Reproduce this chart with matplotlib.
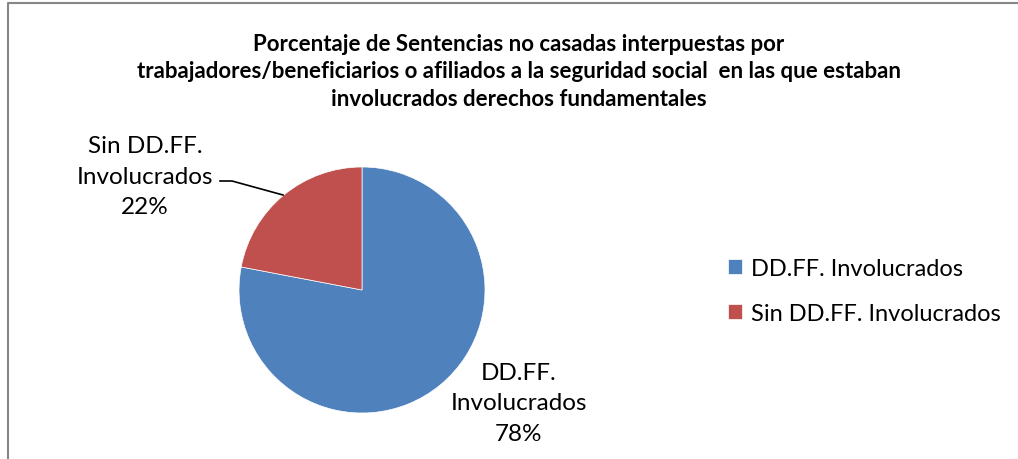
import matplotlib
matplotlib.use('Agg')
from matplotlib import pyplot as plt
from matplotlib.lines import Line2D

#=======================================
# Data
#=======================================
categories = ['DD.FF. Involucrados', 'Sin DD.FF. Involucrados']
values = [78, 22]
colors = ['#4F81BD', '#C0504D']
title = ('Porcentaje de Sentencias no casadas interpuestas por\n'
         'trabajadores/beneficiarios o afiliados a la seguridad social  en las que estaban\n'
         'involucrados derechos fundamentales')

plt.rcParams['font.family'] = ['Lato', 'DejaVu Sans']

W, H = 1018, 460
fig = plt.figure(figsize=(W / 100, H / 100), dpi=100)

def fx(px):
    return px / W

def fy(py):
    return 1 - py / H

#=======================================
# Pie
#=======================================
cx, cy, r = 362, 291, 123
ax = fig.add_axes([fx(cx - r), fy(cy + r), 2 * r / W, 2 * r / H])
wedges, _ = ax.pie(values, colors=colors, startangle=90, counterclock=False,
                   wedgeprops=dict(linewidth=0.5, edgecolor='white'))
ax.set_xlim(-1, 1)
ax.set_ylim(-1, 1)
ax.set_aspect('auto')

# title
fig.text(fx(519), fy(72), title, ha='center', va='center', fontsize=16,
         fontweight='bold', linespacing=1.4, color='black')

# data labels
def label_text(name, val):
    first, rest = name.rsplit(' ', 1)
    return '%s\n%s\n%d%%' % (first, rest, val)

fig.text(fx(519), fy(404), label_text(categories[0], values[0]), ha='center',
         va='center', fontsize=17.5, linespacing=1.55)
fig.text(fx(145), fy(177), label_text(categories[1], values[1]), ha='center',
         va='center', fontsize=17.5, linespacing=1.55)

# leader line
fig.add_artist(Line2D([fx(220), fx(232), fx(283)], [fy(182), fy(182), fy(196)],
                      color='black', linewidth=1.2))

# legend
fig.legend(wedges, categories, loc='center left',
           bbox_to_anchor=(fx(707), fy(292)), frameon=False, fontsize=17,
           handlelength=0.6, handleheight=0.6, handletextpad=0.35,
           labelspacing=1.0)

# chart border (only top and left visible)
fig.add_artist(Line2D([fx(8), fx(8), fx(1018)], [fy(460), fy(4), fy(4)],
                      color='#868686', linewidth=1.5))

fig.savefig('out.png', dpi=100)
